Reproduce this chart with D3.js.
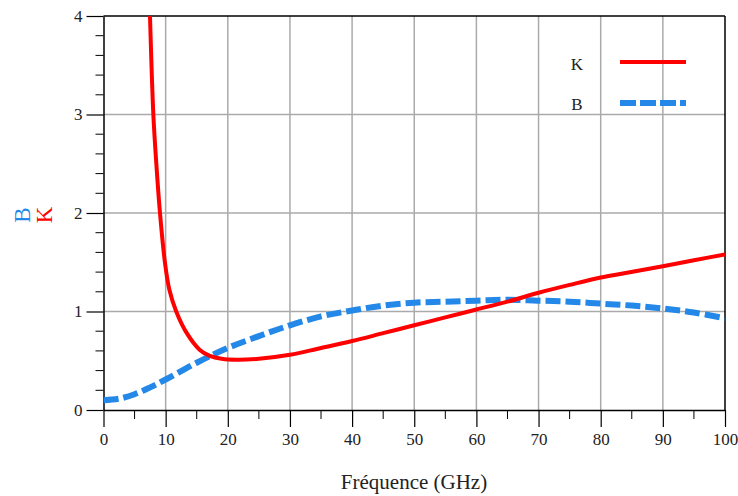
<!DOCTYPE html>
<html><head><meta charset="utf-8">
<script src="https://cdn.jsdelivr.net/npm/d3@7"></script>
<style>body{margin:0;background:#fff}svg{display:block}svg text{font-family:"Liberation Serif","Times New Roman","DejaVu Serif",serif}</style>
</head><body>
<script>
const xTicks = [0,10,20,30,40,50,60,70,80,90,100];
const yTicks = [0,1,2,3,4];
const kFreq = [7.48,8.02,8.5,9.09,9.9,10.6,11.7,13.4,15.5,17.1,19,21.5,25,30,35,40,45,50,55,60,65,70,75,80,84,90,95,100];
const kVals = [4.0,3.0,2.5,2.0,1.49,1.22,1.0,0.78,0.61,0.55,0.52,0.51,0.52,0.56,0.63,0.70,0.78,0.86,0.94,1.02,1.10,1.19,1.27,1.345,1.39,1.46,1.52,1.58];
const bFreq = [0,2.5,5,7.5,10,15,20,25,30,35,40,45,50,55,60,65,70,75,80,85,90,95,100];
const bVals = [0.10,0.115,0.16,0.23,0.31,0.48,0.63,0.75,0.86,0.95,1.01,1.06,1.09,1.10,1.11,1.12,1.11,1.10,1.08,1.06,1.03,0.99,0.93];

const W=738,H=496;
const FONT='"Liberation Serif","Times New Roman","DejaVu Serif",serif';
const svg=d3.select("body").append("svg").attr("width",W).attr("height",H).attr("font-family",FONT);
const x=d3.scaleLinear().domain([0,100]).range([103.5,725]);
const y=d3.scaleLinear().domain([0,4]).range([410,16]);

// grid
svg.append("g").selectAll("line").data(xTicks.filter(d=>d>0&&d<100)).join("line")
  .attr("x1",d=>x(d)).attr("x2",d=>x(d)).attr("y1",y(0)).attr("y2",y(4))
  .attr("stroke","#aaa").attr("stroke-width",1.5);
svg.append("g").selectAll("line").data(yTicks.filter(d=>d>0&&d<4)).join("line")
  .attr("x1",x(0)).attr("x2",x(100)).attr("y1",d=>y(d)).attr("y2",d=>y(d))
  .attr("stroke","#aaa").attr("stroke-width",1.5);

// border
svg.append("line").attr("x1",x(0)).attr("x2",x(100)).attr("y1",y(4)).attr("y2",y(4)).attr("stroke","#000").attr("stroke-width",1.5);
svg.append("line").attr("x1",x(100)).attr("x2",x(100)).attr("y1",y(4)).attr("y2",y(0)).attr("stroke","#000").attr("stroke-width",1.5);

// axes
const xMinor=d3.range(0,101,5).filter(d=>d%10!==0);
const yMinor=d3.range(0,4.001,0.2).filter(d=>Math.abs(d-Math.round(d))>1e-6);
const gx=svg.append("g").attr("transform",`translate(0,${y(0)})`)
  .call(d3.axisBottom(x).tickValues(xTicks).tickFormat(d3.format("d")).tickSize(17).tickSizeOuter(0).tickPadding(6));
gx.append("g").selectAll("line").data(xMinor).join("line").attr("x1",d=>x(d)).attr("x2",d=>x(d)).attr("y1",0).attr("y2",9).attr("stroke","#000");
const gy=svg.append("g").attr("transform",`translate(${x(0)},0)`)
  .call(d3.axisLeft(y).tickValues(yTicks).tickFormat(d3.format("d")).tickSize(17).tickSizeOuter(0).tickPadding(4));
gy.append("g").selectAll("line").data(yMinor).join("line").attr("y1",d=>y(d)).attr("y2",d=>y(d)).attr("x1",0).attr("x2",-8).attr("stroke","#000");
[gx,gy].forEach(g=>{
  g.attr("font-family",FONT).attr("font-size",17);
  g.select(".domain").attr("stroke","#000").attr("stroke-width",1.5);
  g.selectAll(".tick line").attr("stroke","#000").attr("stroke-width",1.2);
  g.selectAll("text").attr("fill","#222");
});

// clip
svg.append("clipPath").attr("id","clip").append("rect").attr("x",x(0)).attr("y",y(4)).attr("width",x(100)-x(0)).attr("height",y(0)-y(4));

const line=d3.line().x(d=>x(d[0])).y(d=>y(d[1])).curve(d3.curveCatmullRom.alpha(0.5));
const kData=kFreq.map((f,i)=>[f,kVals[i]]);
const bData=bFreq.map((f,i)=>[f,bVals[i]]);
const blue="#2388e8", red="#ff0000";
svg.append("path").datum(bData).attr("clip-path","url(#clip)").attr("d",line)
  .attr("fill","none").attr("stroke",blue).attr("stroke-width",6).attr("stroke-dasharray","15,5");
svg.append("path").datum(kData).attr("clip-path","url(#clip)").attr("d",line)
  .attr("fill","none").attr("stroke",red).attr("stroke-width",4);

// legend
svg.append("text").attr("x",577).attr("y",70).attr("text-anchor","middle").attr("font-size",17).attr("fill","#222").text("K");
svg.append("text").attr("x",577).attr("y",110).attr("text-anchor","middle").attr("font-size",17).attr("fill","#222").text("B");
svg.append("line").attr("x1",620).attr("x2",686).attr("y1",62).attr("y2",62).attr("stroke",red).attr("stroke-width",4);
svg.append("line").attr("x1",620).attr("x2",686).attr("y1",103).attr("y2",103).attr("stroke",blue).attr("stroke-width",6).attr("stroke-dasharray","16,4");

// axis titles
svg.append("text").attr("x",414).attr("y",489).attr("text-anchor","middle").attr("font-size",21).attr("fill","#222").text("Fréquence (GHz)");
svg.append("text").attr("transform","translate(30,215) rotate(-90)").attr("text-anchor","middle").attr("font-size",23).attr("fill",blue).text("B");
svg.append("text").attr("transform","translate(52,215) rotate(-90)").attr("text-anchor","middle").attr("font-size",23).attr("fill",red).text("K");
</script>
</body></html>
